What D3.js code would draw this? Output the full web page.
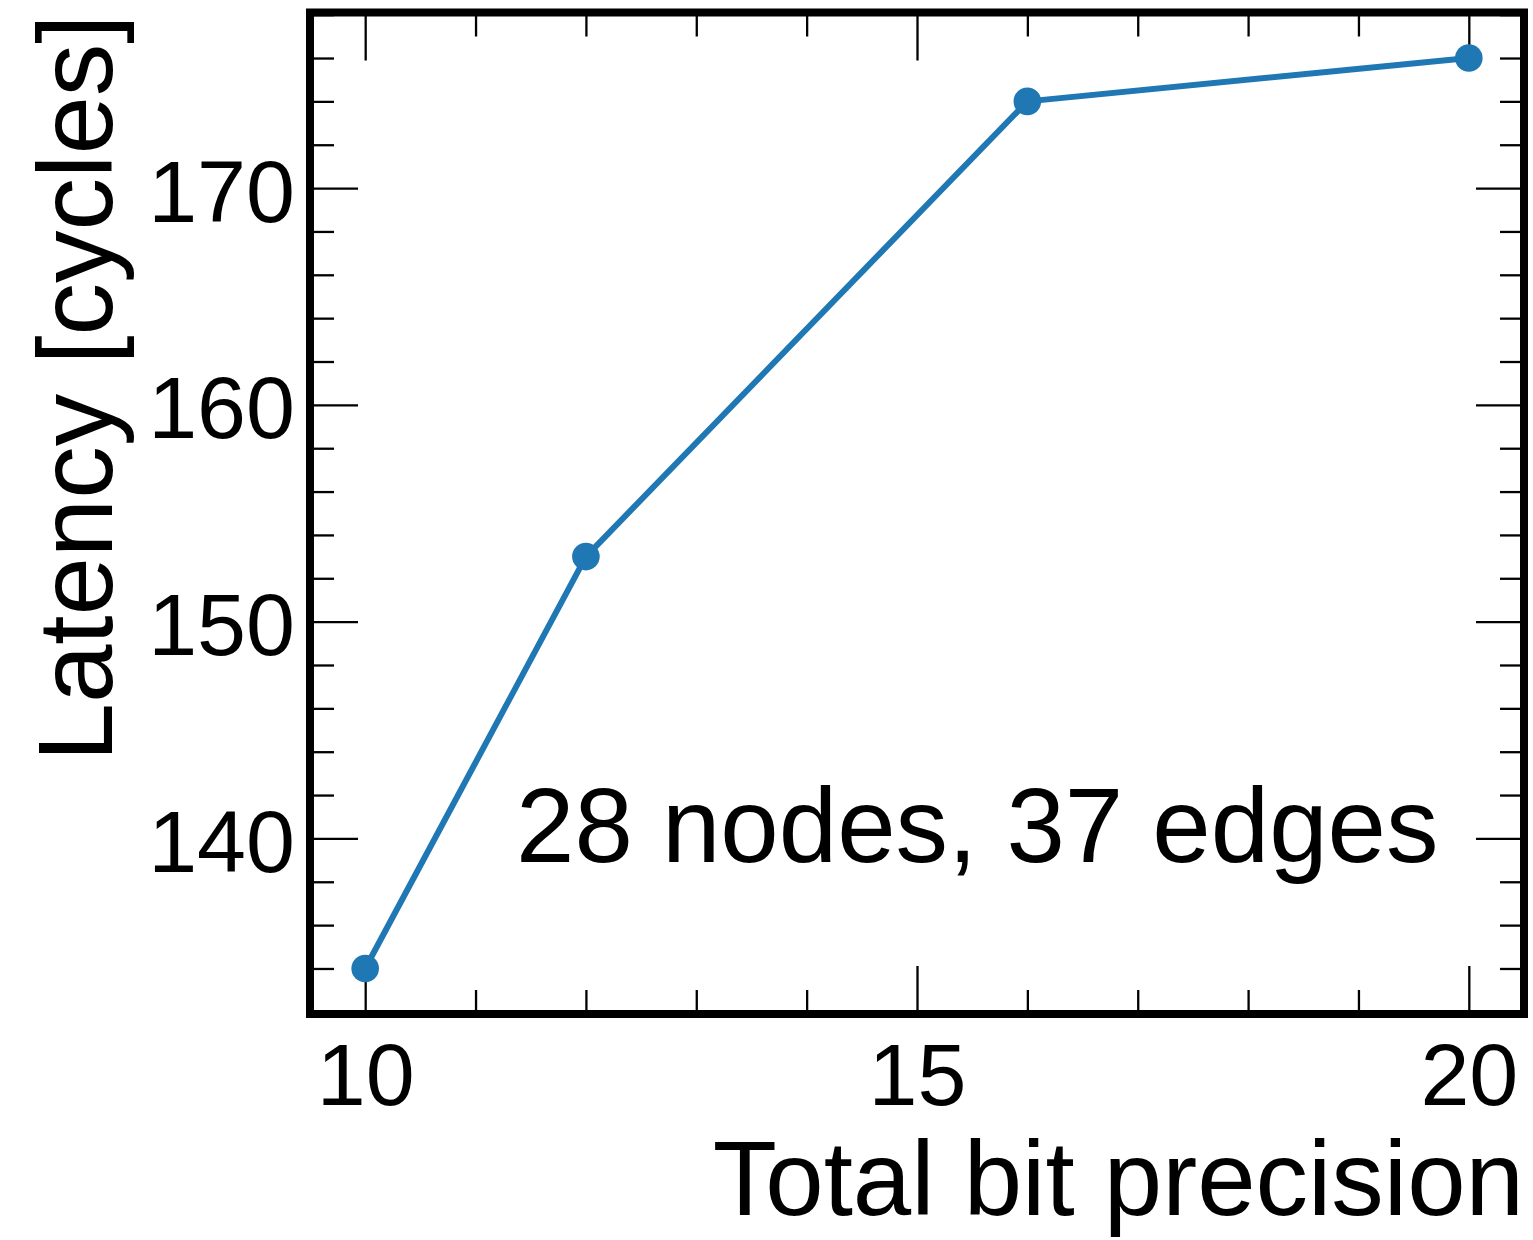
<!DOCTYPE html>
<html>
<head>
<meta charset="utf-8">
<script src="https://cdn.jsdelivr.net/npm/d3@7"></script>
<style>
  html, body { margin: 0; padding: 0; background: #fff; }
  svg { display: block; }
  text { font-family: "Liberation Sans", Arial, Helvetica, sans-serif; fill: #000; }
</style>
</head>
<body>
<svg id="chart" width="1533" height="1240"></svg>
<script>
// ---- data ----
const bitPrecision = [10, 12, 16, 20];
const latency = [134, 153, 174, 176];
const xMajorTicks = [10, 15, 20];
const xMinorTicks = [11, 12, 13, 14, 16, 17, 18, 19];
const yMajorTicks = [140, 150, 160, 170];
const yMinorTicks = [134, 136, 138, 142, 144, 146, 148, 152, 154, 156, 158, 162, 164, 166, 168, 172, 174, 176, 178];
const xLabel = "Total bit precision";
const yLabel = "Latency [cycles]";
const annotation = "28 nodes, 37 edges";

// ---- layout ----
const L = 310, R = 1524, T = 12.5, B = 1014;
const svg = d3.select("#chart");

const x = d3.scaleLinear().domain([9.5, 20.5]).range([L, R]);
const y = d3.scaleLinear().domain([131.9, 178.1]).range([B, T]);

const MAJ = 48, MIN = 24, TW = 2.3;

function styleAxis(g) {
  g.select(".domain").remove();
  g.selectAll(".tick line").attr("stroke", "#000").attr("stroke-width", TW);
}

// bottom
svg.append("g").attr("transform", `translate(0,${B})`)
  .call(d3.axisBottom(x).tickValues(xMajorTicks).tickSizeInner(-MAJ).tickSizeOuter(0).tickFormat(d3.format("d")))
  .call(styleAxis)
  .call(g => g.selectAll(".tick text").attr("y", 91).attr("dy", 0).attr("font-size", 88)
      .style("font-family", '"Liberation Sans", Arial, sans-serif'));
svg.append("g").attr("transform", `translate(0,${B})`)
  .call(d3.axisBottom(x).tickValues(xMinorTicks).tickSizeInner(-MIN).tickSizeOuter(0).tickFormat(""))
  .call(styleAxis);
// top
svg.append("g").attr("transform", `translate(0,${T})`)
  .call(d3.axisTop(x).tickValues(xMajorTicks).tickSizeInner(-MAJ).tickSizeOuter(0).tickFormat(""))
  .call(styleAxis);
svg.append("g").attr("transform", `translate(0,${T})`)
  .call(d3.axisTop(x).tickValues(xMinorTicks).tickSizeInner(-MIN).tickSizeOuter(0).tickFormat(""))
  .call(styleAxis);
// left
svg.append("g").attr("transform", `translate(${L},0)`)
  .call(d3.axisLeft(y).tickValues(yMajorTicks).tickSizeInner(-MAJ).tickSizeOuter(0).tickFormat(d3.format("d")))
  .call(styleAxis)
  .call(g => g.selectAll(".tick text").attr("x", -15).attr("dy", 33).attr("font-size", 88)
      .style("font-family", '"Liberation Sans", Arial, sans-serif'));
svg.append("g").attr("transform", `translate(${L},0)`)
  .call(d3.axisLeft(y).tickValues(yMinorTicks).tickSizeInner(-MIN).tickSizeOuter(0).tickFormat(""))
  .call(styleAxis);
// right
svg.append("g").attr("transform", `translate(${R},0)`)
  .call(d3.axisRight(y).tickValues(yMajorTicks).tickSizeInner(-MAJ).tickSizeOuter(0).tickFormat(""))
  .call(styleAxis);
svg.append("g").attr("transform", `translate(${R},0)`)
  .call(d3.axisRight(y).tickValues(yMinorTicks).tickSizeInner(-MIN).tickSizeOuter(0).tickFormat(""))
  .call(styleAxis);

// data line + markers
const pts = bitPrecision.map((b, i) => [b, latency[i]]);
svg.append("path")
  .datum(pts)
  .attr("fill", "none")
  .attr("stroke", "#1f77b4")
  .attr("stroke-width", 6)
  .attr("stroke-linejoin", "round")
  .attr("d", d3.line().x(d => x(d[0])).y(d => y(d[1])));
svg.append("g").selectAll("circle")
  .data(pts).join("circle")
  .attr("cx", d => x(d[0])).attr("cy", d => y(d[1]))
  .attr("r", 13.8).attr("fill", "#1f77b4");

// frame
svg.append("rect")
  .attr("x", L).attr("y", T).attr("width", R - L).attr("height", B - T)
  .attr("fill", "none").attr("stroke", "#000").attr("stroke-width", 8);

// labels
svg.append("text").attr("x", R).attr("y", 1215).attr("text-anchor", "end")
  .attr("font-size", 105).text(xLabel);
svg.append("text").attr("transform", `translate(112,${T + 2}) rotate(-90)`).attr("text-anchor", "end")
  .attr("font-size", 105).text(yLabel);
svg.append("text").attr("x", 516).attr("y", 862)
  .attr("font-size", 105).text(annotation);
</script>
</body>
</html>
